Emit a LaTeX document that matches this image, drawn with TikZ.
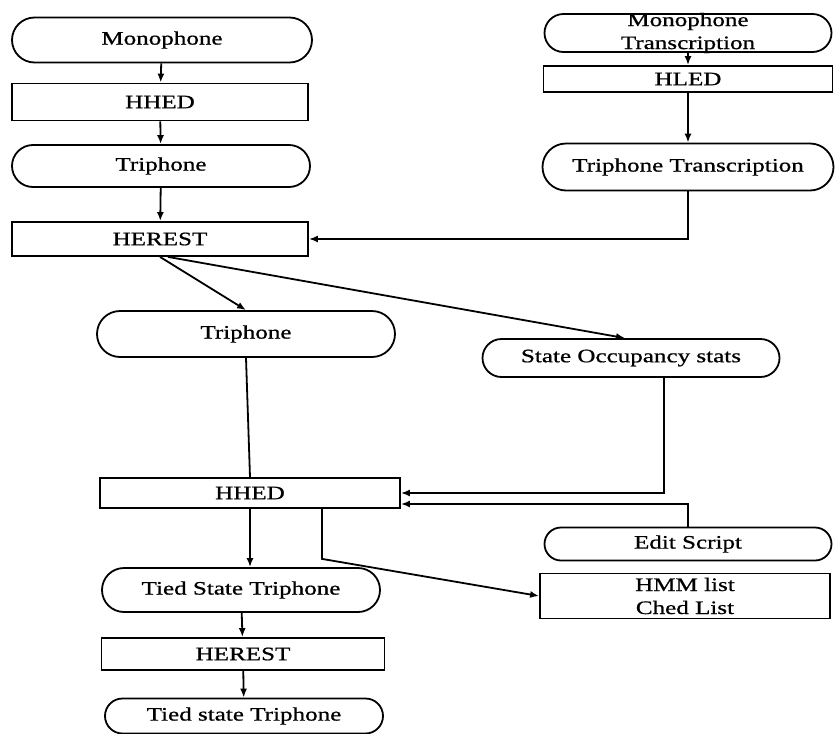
\documentclass[tikz,border=0pt]{standalone}
\usepackage{fontspec}
\setmainfont{Liberation Serif}[FakeStretch=1.32, FakeBold=0.8]
\usetikzlibrary{arrows.meta, positioning, shapes.misc}

\begin{document}
\begin{tikzpicture}[
  x=1pt, y=-1pt,
  font=\fontsize{19}{23}\selectfont,
  proc/.style={draw, line width=1.8pt, rectangle, inner sep=0pt, align=center},
  data/.style={draw, line width=1.8pt, rounded rectangle, inner sep=0pt, align=center},
  fl/.style={-{Latex[length=9pt, width=7pt]}, line width=1.8pt},
  ln/.style={line width=1.8pt}
]
\useasboundingbox (0,0) rectangle (836,734);

% left column, top
\node[data, minimum width=300pt, minimum height=45pt] (mono) at (162,40) {Monophone};
\node[proc, minimum width=296pt, minimum height=37pt] (hhedA) at (160,102) {HHED};
\node[data, minimum width=298pt, minimum height=42pt] (triA) at (161,166) {Triphone};
\node[proc, minimum width=296pt, minimum height=34pt] (herestA) at (160,239) {HEREST};

% right column, top
\node[data, minimum width=287pt, minimum height=38pt,
      label={[align=center, font=\fontsize{19}{23}\selectfont]center:Monophone\\Transcription}] (monotr) at (688,33) {};
\node[proc, minimum width=289pt, minimum height=26pt] (hled) at (688,79) {HLED};
\node[data, minimum width=291pt, minimum height=47pt] (tritr) at (688,167) {Triphone Transcription};

% middle
\node[data, minimum width=298pt, minimum height=46pt] (triB) at (246,334) {Triphone};
\node[data, minimum width=297pt, minimum height=38pt] (sos) at (631,358) {State Occupancy stats};
\node[proc, minimum width=300pt, minimum height=30pt] (hhedB) at (250,493) {HHED};
\node[data, minimum width=287pt, minimum height=33pt] (edit) at (688,544) {Edit Script};

% bottom
\node[data, minimum width=278pt, minimum height=44pt] (tst) at (241,590) {Tied State Triphone};
\node[proc, minimum width=290pt, minimum height=45pt] (hmm) at (685,596) {HMM list\\Ched List};
\node[proc, minimum width=283pt, minimum height=32pt] (herestB) at (243,654) {HEREST};
\node[data, minimum width=278pt, minimum height=35pt] (tstB) at (244,716) {Tied state Triphone};

\draw[fl] (mono) -- (hhedA);
\draw[fl] (hhedA) -- (triA);
\draw[fl] (triA) -- (herestA);
\draw[fl] (monotr) -- (hled);
\draw[fl] (hled) -- (tritr);
\draw[fl] (tritr.south) |- (herestA.east);
\draw[fl] (herestA.south) -- (triB.north);
\draw[fl] ([xshift=8pt]herestA.south) -- ([xshift=-6pt]sos.north);
\draw[ln] (triB.south) -- (hhedB.north);
\draw[fl] ([xshift=33pt]sos.south) |- (hhedB.east);
\draw[fl] (edit.north) |- ([yshift=-11pt]hhedB.east);
\draw[fl] (hhedB.south) -- (hhedB.south |- tst.north);
\coordinate (bend) at ([xshift=72pt, yshift=-50pt]hhedB.south);
\draw[fl] ([xshift=72pt]hhedB.south) -- (bend) -- (hmm.west);
\draw[fl] (tst) -- (herestB);
\draw[fl] (herestB) -- (tstB);
\end{tikzpicture}
\end{document}
